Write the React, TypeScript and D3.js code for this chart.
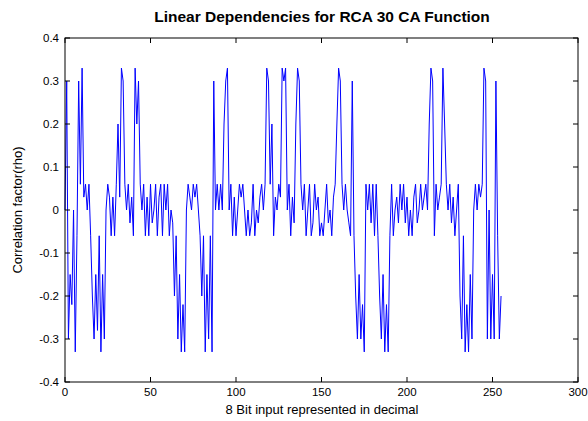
import React from "react";
import { scaleLinear, line, range } from "d3";

// correlation factor for each 8-bit input 0..255
const rho: number[] = [
  0.0, 0.3, -0.3, -0.15, -0.22, 0.0, -0.33, -0.06, 0.3, 0.06,
  0.33, 0.03, 0.06, 0.0, 0.06, -0.06, -0.2, -0.3, -0.15, -0.28,
  -0.06, -0.33, -0.15, -0.3, 0.0, 0.06, 0.03, -0.06, 0.03, -0.06,
  0.06, 0.2, 0.03, 0.33, 0.3, 0.06, 0.0, 0.06, -0.03, 0.03,
  -0.06, 0.33, 0.2, 0.3, 0.06, 0.0, 0.06, -0.06, 0.03, -0.06,
  0.06, -0.03, 0.0, 0.06, -0.06, 0.03, 0.06, -0.06, 0.06, 0.0,
  0.06, -0.06, 0.0, -0.03, -0.2, -0.06, -0.3, -0.15, -0.33, -0.22,
  -0.33, 0.0, 0.06, 0.03, 0.0, 0.06, 0.03, 0.06, 0.0, -0.06,
  -0.2, -0.06, -0.33, -0.15, -0.3, -0.06, -0.33, 0.3, 0.0, 0.06,
  0.0, 0.06, 0.0, 0.2, 0.3, 0.33, 0.0, 0.06, -0.06, 0.03,
  -0.06, 0.0, 0.06, 0.03, 0.06, 0.0, -0.06, 0.0, -0.06, -0.03,
  0.06, -0.06, 0.0, -0.03, 0.03, 0.06, 0.0, 0.06, 0.33, 0.3,
  0.06, 0.2, -0.06, 0.03, 0.0, 0.06, 0.03, 0.33, 0.3, 0.33,
  0.0, 0.06, -0.06, 0.03, -0.03, 0.2, 0.33, 0.3, 0.06, 0.0,
  0.06, -0.06, 0.0, 0.06, -0.06, -0.03, 0.06, 0.0, 0.03, -0.06,
  -0.03, -0.06, 0.0, 0.06, -0.03, 0.0, -0.06, 0.03, 0.06, 0.2,
  0.33, 0.3, 0.06, 0.0, 0.06, 0.0, -0.03, -0.06, 0.3, -0.06,
  -0.2, -0.3, -0.15, -0.3, -0.22, -0.33, 0.06, 0.0, 0.06, -0.03,
  0.06, -0.06, 0.06, -0.06, -0.2, -0.3, -0.15, -0.33, -0.22, -0.33,
  -0.06, 0.06, -0.06, 0.0, 0.03, -0.03, 0.06, 0.0, 0.06, -0.03,
  0.03, -0.06, 0.0, -0.06, 0.03, 0.06, -0.03, 0.0, 0.06, 0.0,
  0.03, 0.06, 0.0, 0.2, 0.33, 0.3, -0.06, 0.06, 0.0, 0.03,
  0.06, 0.33, 0.2, 0.06, 0.0, 0.06, -0.03, 0.03, -0.06, 0.0,
  0.06, -0.2, -0.3, -0.06, -0.33, -0.22, -0.33, -0.15, -0.3, 0.0,
  0.06, 0.0, 0.06, 0.03, 0.06, 0.33, 0.3, -0.3, 0.0, -0.3,
  -0.15, -0.3, 0.3, -0.06, -0.3, -0.2,
];
const xTicks = [0, 50, 100, 150, 200, 250, 300];
const yTicks = [-0.4, -0.3, -0.2, -0.1, 0, 0.1, 0.2, 0.3, 0.4];

const W = 588, H = 421;
const m = { left: 65, top: 38, right: 10, bottom: 39 };

const App = () => {
  const x = scaleLinear().domain([0, 300]).range([m.left, W - m.right]);
  const y = scaleLinear().domain([-0.4, 0.4]).range([H - m.bottom, m.top]);
  const path = line<number>()
    .x((d, i) => x(i))
    .y((d) => y(d));
  const font = "Arial, 'Liberation Sans', sans-serif";
  const tk = 5;
  return (
    <svg width={W} height={H} style={{ position: "absolute", left: 0, top: 0 }} fontFamily={font}>
      <rect width={W} height={H} fill="#fff" />
      <text x={322} y={22} textAnchor="middle" fontSize={15.5} fontWeight="bold">
        Linear Dependencies for RCA 30 CA Function
      </text>
      <path d={path(rho) || ""} fill="none" stroke="#0000ff" strokeWidth={1} />
      <rect x={x(0)} y={y(0.4)} width={x(300) - x(0)} height={y(-0.4) - y(0.4)}
        fill="none" stroke="#000" strokeWidth={1} />
      {xTicks.map((t) => (
        <g key={"x" + t}>
          <line x1={x(t)} x2={x(t)} y1={y(-0.4)} y2={y(-0.4) - tk} stroke="#000" />
          <line x1={x(t)} x2={x(t)} y1={y(0.4)} y2={y(0.4) + tk} stroke="#000" />
          <text x={x(t)} y={y(-0.4) + 14} textAnchor="middle" fontSize={11.5}>{t}</text>
        </g>
      ))}
      {yTicks.map((t) => (
        <g key={"y" + t}>
          <line x1={x(0)} x2={x(0) + tk} y1={y(t)} y2={y(t)} stroke="#000" />
          <line x1={x(300)} x2={x(300) - tk} y1={y(t)} y2={y(t)} stroke="#000" />
          <text x={x(0) - 6} y={y(t) + 4} textAnchor="end" fontSize={11.5}>{t === 0 ? "0" : t.toFixed(1)}</text>
        </g>
      ))}
      <text x={322} y={414} textAnchor="middle" fontSize={13}>8 Bit input represented in decimal</text>
      <text transform={`translate(22,${(y(0.4) + y(-0.4)) / 2}) rotate(-90)`} textAnchor="middle" fontSize={13}>
        Correlation factor(rho)
      </text>
    </svg>
  );
};

export default App;
